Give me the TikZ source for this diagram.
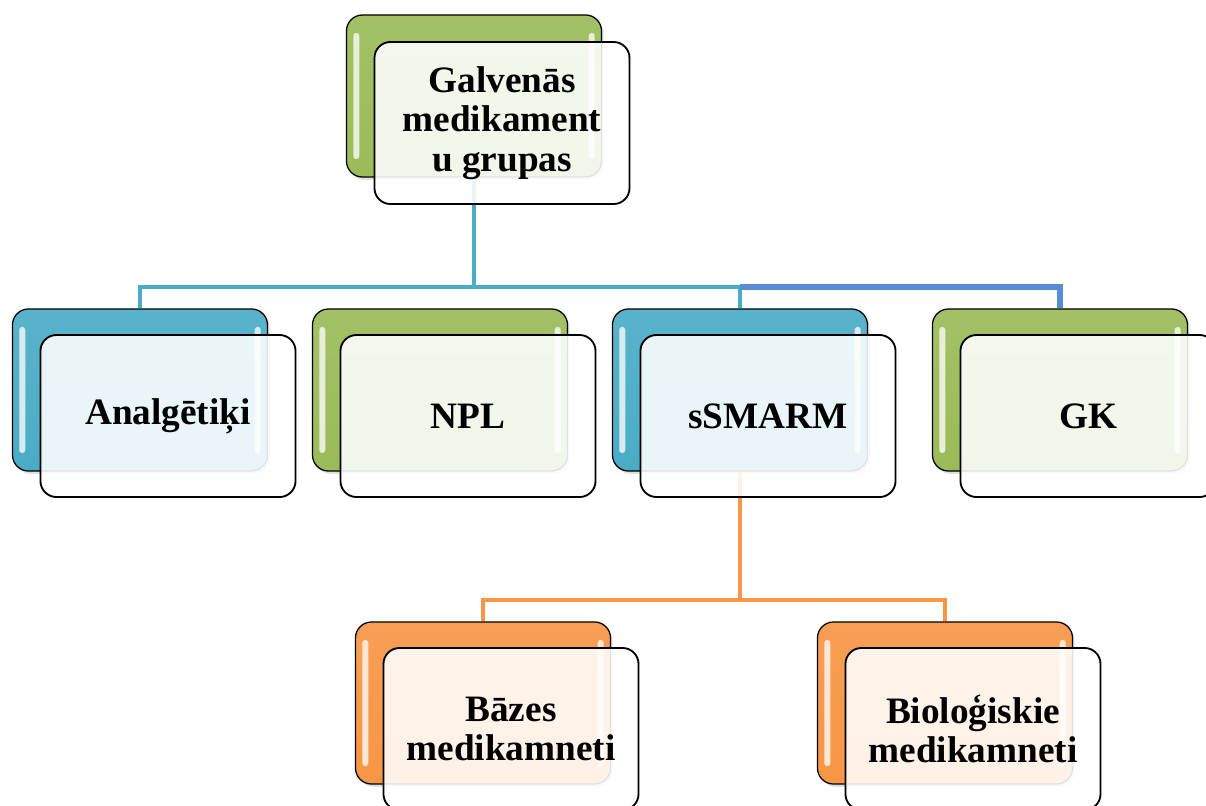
\documentclass[tikz,border=0pt]{standalone}
\usepackage{fontspec}
\setmainfont{Liberation Serif}
\usetikzlibrary{shadows}
\definecolor{zals}{HTML}{9BBB59}
\definecolor{zils}{HTML}{4BACC6}
\definecolor{oranzs}{HTML}{F79646}
\definecolor{tumszils}{HTML}{558ED5}

\begin{document}
\begin{tikzpicture}[x=0.025cm,y=-0.025cm,
aizmkaste/.style={rectangle,rounded corners=0.4cm,draw=black,line width=0.9pt,
  minimum width=6.375cm,minimum height=4.05cm,inner sep=0pt,
  top color=#1!92!white,bottom color=#1,
  drop shadow={opacity=0.25,shadow xshift=1.5pt,shadow yshift=-2pt},
  path picture={
    \fill[#1!15!white,opacity=.9,rounded corners=2pt]
      ([xshift=0.17cm,yshift=-0.45cm]path picture bounding box.north west) rectangle
      ([xshift=0.32cm,yshift=0.45cm]path picture bounding box.south west);
    \fill[#1!15!white,opacity=.9,rounded corners=2pt]
      ([xshift=-0.32cm,yshift=-0.45cm]path picture bounding box.north east) rectangle
      ([xshift=-0.17cm,yshift=0.45cm]path picture bounding box.south east);
  }},
prieksakaste/.style={rectangle,rounded corners=0.4cm,draw=black,line width=1.3pt,
  minimum width=6.375cm,minimum height=4.05cm,inner sep=0pt,
  fill=white,fill opacity=0.88,text opacity=1,align=center,
  font=\bfseries\fontsize{26.5}{28}\selectfont},
savienojums/.style={line width=2.8pt}
]
\useasboundingbox (0,0) rectangle (1206,805);
\clip (0,0) rectangle (1206,805);

% aizmugurejas kastes
\node[aizmkaste=zals](galv) at (474,96){};
\node[aizmkaste=zils](anal) at (140,390){};
\node[aizmkaste=zals](npl) at (440,390){};
\node[aizmkaste=zils](ssm) at (740,390){};
\node[aizmkaste=zals](gk) at (1060,390){};
\node[aizmkaste=oranzs](baz) at (483,703){};
\node[aizmkaste=oranzs](bio) at (945,703){};

\coordinate (sadale) at (474,287);
\coordinate (sadale2) at (740,600);

\begin{scope}[savienojums]
\draw[zils] (galv.south)--(sadale);
\draw[zils] (anal.north)|-(ssm.north |- sadale)--(ssm.north);
\draw[tumszils,line width=4.3pt] (ssm.north |- sadale)-|(gk.north);
\draw[oranzs] (ssm.south)--(sadale2);
\draw[oranzs] (baz.north)|-(sadale2)-|(bio.north);
\end{scope}

% prieksejas kastes
\node[prieksakaste](galv-t) at (502,123){Galvenās\\medikament\\u grupas};
\node[prieksakaste](anal-t) at (168,416){Analgētiķi};
\node[prieksakaste](npl-t) at (468,416){NPL};
\node[prieksakaste](ssm-t) at (768,416){sSMARM};
\node[prieksakaste](gk-t) at (1088,416){GK};
\node[prieksakaste](baz-t) at (511,729){Bāzes\\medikamneti};
\node[prieksakaste](bio-t) at (973,729){Bioloģiskie\\medikamneti};

\end{tikzpicture}
\end{document}
